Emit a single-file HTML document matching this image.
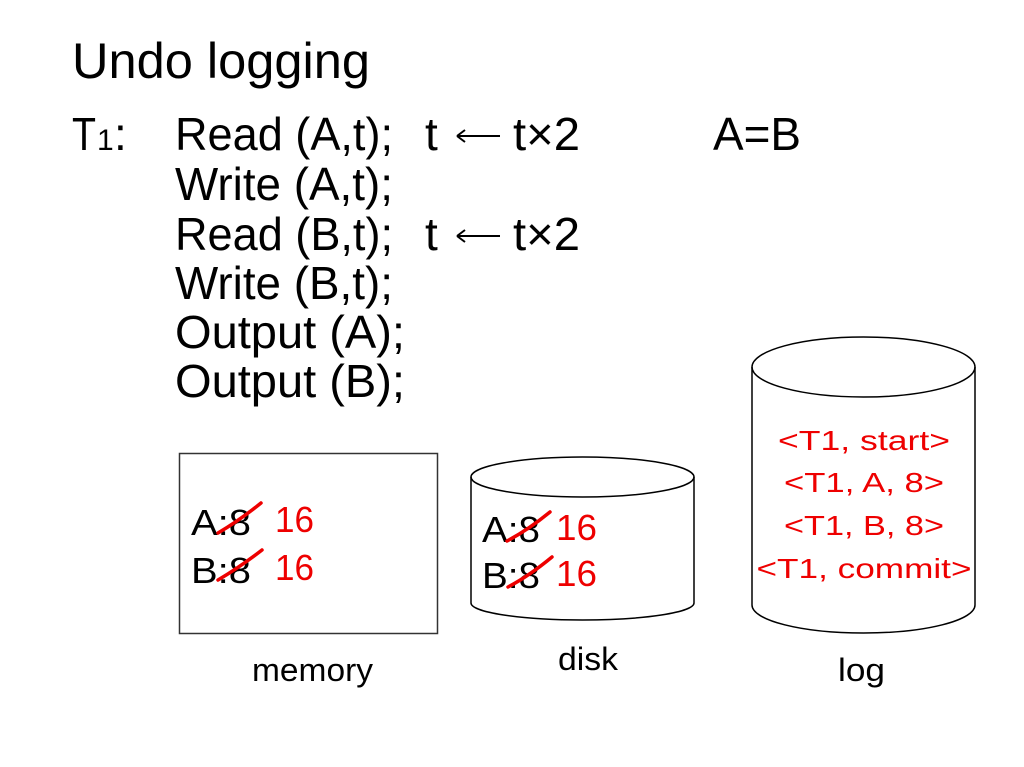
<!DOCTYPE html>
<html><head><meta charset="utf-8"><style>html,body{margin:0;padding:0;background:#fff}svg{display:block}</style></head>
<body>
<svg width="1024" height="767" viewBox="0 0 1024 767" xmlns="http://www.w3.org/2000/svg" font-family="Liberation Sans, sans-serif">
<rect x="0" y="0" width="1024" height="767" fill="#fff"/>
<text x="72" y="78" font-size="50" textLength="298" lengthAdjust="spacingAndGlyphs">Undo logging</text>
<g font-size="46" fill="#000">
<text x="72" y="150" textLength="24" lengthAdjust="spacingAndGlyphs">T</text>
<text x="97" y="150" font-size="30">1</text>
<text x="114" y="150">:</text>
<text x="175" y="150" textLength="218" lengthAdjust="spacingAndGlyphs">Read (A,t);</text>
<text x="425" y="150">t</text>
<text x="513" y="150" textLength="67" lengthAdjust="spacingAndGlyphs">t×2</text>
<text x="713" y="150" textLength="88" lengthAdjust="spacingAndGlyphs">A=B</text>
<text x="175" y="200" textLength="218" lengthAdjust="spacingAndGlyphs">Write (A,t);</text>
<text x="175" y="250" textLength="218" lengthAdjust="spacingAndGlyphs">Read (B,t);</text>
<text x="425" y="250">t</text>
<text x="513" y="250" textLength="67" lengthAdjust="spacingAndGlyphs">t×2</text>
<text x="175" y="299" textLength="218" lengthAdjust="spacingAndGlyphs">Write (B,t);</text>
<text x="175" y="348" textLength="230" lengthAdjust="spacingAndGlyphs">Output (A);</text>
<text x="175" y="397" textLength="230" lengthAdjust="spacingAndGlyphs">Output (B);</text>
</g>
<g stroke="#000" stroke-width="2" fill="none">
<path d="M457 136 L500 136 M457 136 L465 130 M457 136 L465 142"/>
<path d="M457 236 L500 236 M457 236 L465 230 M457 236 L465 242"/>
</g>
<!-- memory -->
<rect x="179.5" y="453.5" width="258" height="180" fill="none" stroke="#333" stroke-width="1.5"/>
<g font-size="36">
<text x="191" y="535" textLength="60" lengthAdjust="spacingAndGlyphs">A:8</text>
<text x="275" y="532" fill="#e00" textLength="39" lengthAdjust="spacingAndGlyphs">16</text>
<text x="191" y="583" textLength="60" lengthAdjust="spacingAndGlyphs">B:8</text>
<text x="275" y="580" fill="#e00" textLength="39" lengthAdjust="spacingAndGlyphs">16</text>
</g>
<path d="M218 533 Q240 520 261 503" stroke="#e00" stroke-width="3.5" fill="none" stroke-linecap="round"/>
<path d="M218 580 Q240 567 262 550" stroke="#e00" stroke-width="3.5" fill="none" stroke-linecap="round"/>
<!-- disk -->
<path d="M471 477 L471 603 A111.5 17 0 0 0 694 603 L694 477" fill="none" stroke="#000" stroke-width="1.5"/>
<ellipse cx="582.5" cy="477" rx="111.5" ry="20" fill="none" stroke="#000" stroke-width="1.5"/>
<g font-size="36">
<text x="482" y="542" textLength="58" lengthAdjust="spacingAndGlyphs">A:8</text>
<text x="556" y="540" fill="#e00" textLength="41" lengthAdjust="spacingAndGlyphs">16</text>
<text x="482" y="588" textLength="58" lengthAdjust="spacingAndGlyphs">B:8</text>
<text x="556" y="586" fill="#e00" textLength="41" lengthAdjust="spacingAndGlyphs">16</text>
</g>
<path d="M507 541 Q528 530 550 512" stroke="#e00" stroke-width="3.5" fill="none" stroke-linecap="round"/>
<path d="M508 587 Q529 576 552 557" stroke="#e00" stroke-width="3.5" fill="none" stroke-linecap="round"/>
<!-- log -->
<path d="M752 367 L752 605 A111.5 28 0 0 0 975 605 L975 367" fill="none" stroke="#000" stroke-width="1.5"/>
<ellipse cx="863.5" cy="367" rx="111.5" ry="30" fill="none" stroke="#000" stroke-width="1.5"/>
<g font-size="28" fill="#e00" text-anchor="middle">
<text x="864" y="450" textLength="172" lengthAdjust="spacingAndGlyphs">&lt;T1, start&gt;</text>
<text x="864" y="492" textLength="160" lengthAdjust="spacingAndGlyphs">&lt;T1, A, 8&gt;</text>
<text x="864" y="535" textLength="160" lengthAdjust="spacingAndGlyphs">&lt;T1, B, 8&gt;</text>
<text x="864" y="578" textLength="215" lengthAdjust="spacingAndGlyphs">&lt;T1, commit&gt;</text>
</g>
<g font-size="32">
<text x="252" y="681" textLength="121" lengthAdjust="spacingAndGlyphs">memory</text>
<text x="558" y="670" textLength="60" lengthAdjust="spacingAndGlyphs">disk</text>
<text x="838" y="681" textLength="47" lengthAdjust="spacingAndGlyphs">log</text>
</g>
</svg>
</body></html>
